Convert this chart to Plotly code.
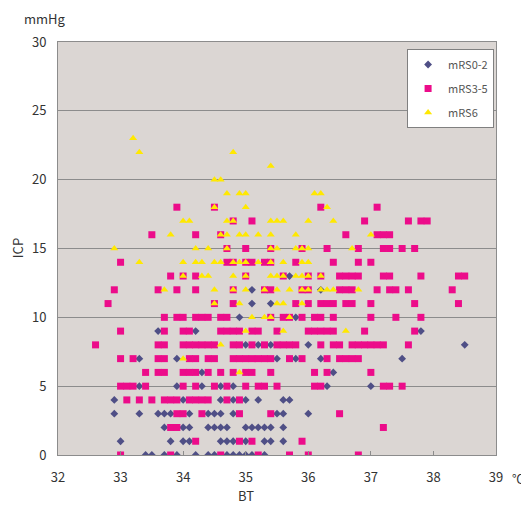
import plotly.graph_objects as go

# BT values (°C) observed at each ICP level (mmHg), per outcome group
mrs02_bt_by_icp = {
    0: [33.4, 33.5, 33.7, 33.9, 34.2, 34.4, 34.5, 34.7, 34.8, 34.9, 35.0, 35.1, 35.3],
    1: [33.0, 33.8, 34.0, 34.1, 34.6, 34.7, 34.8, 35.0, 35.3, 35.4, 35.6],
    2: [33.7, 34.0, 34.1, 34.4, 34.5, 34.6, 34.7, 35.0, 35.1, 35.2, 35.3, 35.4, 35.6],
    3: [32.9, 33.3, 33.6, 33.7, 33.8, 34.1, 34.4, 34.5, 34.6, 34.8, 35.5, 35.6, 36.0],
    4: [32.9, 34.0, 34.6, 34.8, 35.0, 35.2, 35.6, 35.7],
    5: [33.3, 33.9, 34.3, 34.6, 34.8, 36.3, 37.0],
    6: [34.3, 36.4],
    7: [33.3, 33.9, 35.5, 35.8, 36.2, 37.5],
    8: [35.0, 35.2, 35.4, 36.0, 38.5],
    9: [33.6, 34.2, 37.8],
    10: [34.9, 35.8],
    11: [35.1, 35.4],
    12: [35.1, 36.2],
    13: [35.7],
}

mrs35_bt_by_icp = {
    0: [33.0, 33.8, 34.6, 35.2, 35.7, 36.0, 36.8],
    1: [34.2, 34.9, 35.1, 35.9],
    2: [33.8, 33.9, 37.2],
    3: [33.9, 34.0, 34.3, 34.9, 35.4, 36.5],
    4: [33.1, 33.3, 33.5, 33.7, 33.8, 33.9, 34.1, 34.2, 34.3, 34.4, 34.7, 34.9],
    5: [33.0, 33.1, 33.2, 33.4, 34.0, 34.2, 34.5, 34.7, 35.0, 35.2, 35.3, 35.5,
        36.1, 36.2, 37.2, 37.3, 37.5],
    6: [33.4, 33.6, 33.7, 34.0, 34.1, 34.2, 34.4, 34.6, 34.8, 35.0, 35.1, 35.4,
        36.1, 36.3, 37.0],
    7: [33.0, 33.2, 33.6, 33.7, 34.1, 34.2, 34.4, 34.5, 34.8, 34.9, 35.0, 35.1,
        35.2, 35.3, 35.4, 35.7, 35.9, 36.3, 36.5, 36.6, 36.7, 36.8],
    8: [32.6, 33.6, 33.7, 34.0, 34.1, 34.2, 34.3, 34.4, 34.5, 34.8, 34.9, 35.1,
        35.3, 35.5, 35.6, 35.7, 35.8, 36.2, 36.4, 36.5, 36.7, 36.8, 36.9, 37.0,
        37.1, 37.2, 37.6],
    9: [33.0, 33.7, 34.0, 34.1, 34.6, 34.7, 34.8, 34.9, 35.1, 35.2, 35.5, 36.0,
        36.1, 36.2, 36.3, 36.4, 36.9, 37.7],
    10: [33.7, 33.9, 34.0, 34.2, 34.3, 34.4, 34.6, 34.7, 35.4, 35.6, 35.7, 35.9,
         36.1, 36.2, 36.4, 37.0, 37.4, 37.8],
    11: [32.8, 34.5, 34.8, 35.8, 36.0, 36.2, 36.3, 36.4, 36.6, 36.7, 37.0, 37.7, 38.4],
    12: [32.9, 33.6, 33.9, 34.2, 34.8, 35.3, 35.4, 35.9, 36.0, 36.5, 36.6, 36.7,
         37.1, 37.3, 37.4, 37.6, 38.3],
    13: [33.8, 34.0, 34.2, 35.0, 35.6, 36.0, 36.2, 36.5, 36.6, 36.7, 36.8, 37.2,
         37.3, 37.8, 38.4, 38.5],
    14: [33.0, 34.7, 34.8, 35.0, 35.1, 35.3, 35.4, 35.8, 36.4, 36.8, 37.0],
    15: [34.7, 35.0, 35.4, 35.9, 36.3, 36.8, 37.2, 37.3, 37.5, 37.7],
    16: [33.5, 34.2, 34.6, 36.6, 37.1, 37.2, 37.3],
    17: [34.8, 35.1, 36.9, 37.6, 37.8, 37.9],
    18: [33.9, 34.5, 36.2, 37.1],
}

mrs6_bt_by_icp = {
    6: [34.9],
    7: [34.0],
    8: [34.6],
    9: [35.0, 35.6, 36.6],
    10: [35.1, 35.3, 35.4, 35.7],
    11: [34.5, 34.9, 35.5, 35.6, 35.9],
    12: [33.7, 34.5, 34.8, 35.0, 35.3, 35.5, 35.7, 35.9, 36.0, 36.2, 36.3, 36.4, 36.8],
    13: [34.0, 34.3, 34.4, 34.8, 35.0, 35.4, 35.5, 35.6, 35.8, 35.9, 36.0, 36.2],
    14: [33.3, 34.0, 34.2, 34.3, 34.5, 34.6, 34.8, 34.9, 35.0, 35.2, 35.4, 35.6,
         35.9, 36.0],
    15: [32.9, 34.2, 34.4, 34.7, 35.4, 35.5, 35.8, 35.9, 36.0, 36.7],
    16: [33.8, 34.6, 34.7, 34.9, 35.0, 35.2, 35.4, 35.8, 37.0],
    17: [34.0, 34.1, 34.7, 34.8, 35.4, 35.5, 35.6, 36.0, 36.4],
    18: [34.5, 35.0, 36.3],
    19: [34.7, 34.9, 35.0, 36.1, 36.2],
    20: [34.5, 34.6],
    21: [35.4],
    22: [33.3, 34.8],
    23: [33.2],
}

series_names = ["mRS0-2", "mRS3-5", "mRS6"]
x_tick_vals = [32, 33, 34, 35, 36, 37, 38, 39]
y_tick_vals = [0, 5, 10, 15, 20, 25, 30]


def flatten(d):
    xs, ys = [], []
    for icp, bts in d.items():
        for bt in bts:
            xs.append(bt)
            ys.append(icp)
    return xs, ys


FONT = "Noto Sans CJK JP, DejaVu Sans, sans-serif"
TXT = "#333333"

fig = go.Figure()
styles = [
    (mrs02_bt_by_icp, dict(symbol="diamond", size=6, color="#4F4F86")),
    (mrs35_bt_by_icp, dict(symbol="square", size=7, color="#EC0C8A")),
    (mrs6_bt_by_icp, dict(symbol="triangle-up", size=7, color="#FFE800")),
]
for name, (d, mk) in zip(series_names, styles):
    xs, ys = flatten(d)
    fig.add_trace(go.Scatter(
        x=xs, y=ys, mode="markers", name=name, legendgroup=name,
        marker=dict(symbol=mk["symbol"], size=mk["size"], color=mk["color"],
                    line=dict(width=0)),
    ))

# the page body adds an 8px offset, so the figure is sized/margined to compensate
fig.update_layout(
    width=521, height=501,
    margin=dict(l=50, r=33, t=34, b=54, autoexpand=False),
    paper_bgcolor="white",
    plot_bgcolor="#DBD6D3",
    font=dict(family=FONT, size=13, color=TXT),
    showlegend=True,
    legend=dict(
        x=0.797, y=0.983, xanchor="left", yanchor="top",
        bgcolor="white", bordercolor="#808080", borderwidth=1,
        font=dict(size=11, color="#555555"),
        traceorder="grouped", tracegroupgap=5,
        itemwidth=30,
    ),
    xaxis=dict(
        range=[32, 39], tickvals=x_tick_vals, ticktext=[str(v) for v in x_tick_vals],
        showgrid=False, zeroline=False, automargin=False,
        showline=True, linecolor="#8C8C8C", linewidth=1, mirror=True,
        ticks="inside", ticklen=4, tickcolor="#8C8C8C",
        ticklabelstandoff=10,
    ),
    yaxis=dict(
        range=[0, 30], tickvals=y_tick_vals, ticktext=[str(v) for v in y_tick_vals],
        showgrid=True, gridcolor="#8C8C8C", gridwidth=1, zeroline=False,
        automargin=False,
        showline=True, linecolor="#8C8C8C", linewidth=1, mirror=True,
        ticks="", ticklabelstandoff=8,
    ),
)

# Axis titles / units placed as paper-anchored text
fig.add_annotation(text="ICP", xref="paper", yref="paper",
                   x=-0.092, y=0.5, textangle=-90, showarrow=False,
                   xanchor="center", yanchor="middle",
                   font=dict(size=13, color=TXT))
fig.add_annotation(text="BT", xref="paper", yref="paper",
                   x=0.43, y=-0.097, showarrow=False,
                   xanchor="center", yanchor="middle",
                   font=dict(size=13, color=TXT))
fig.add_annotation(text="mmHg", xref="paper", yref="paper",
                   x=-0.03, y=1.0, yshift=24, showarrow=False,
                   xanchor="center", yanchor="middle",
                   font=dict(size=13, color=TXT))
fig.add_annotation(text="℃", xref="paper", yref="paper",
                   x=1.0, y=0.0, xshift=14, yshift=-23, showarrow=False,
                   xanchor="left", yanchor="middle",
                   font=dict(size=12, color=TXT))

fig.write_html("out.html")
